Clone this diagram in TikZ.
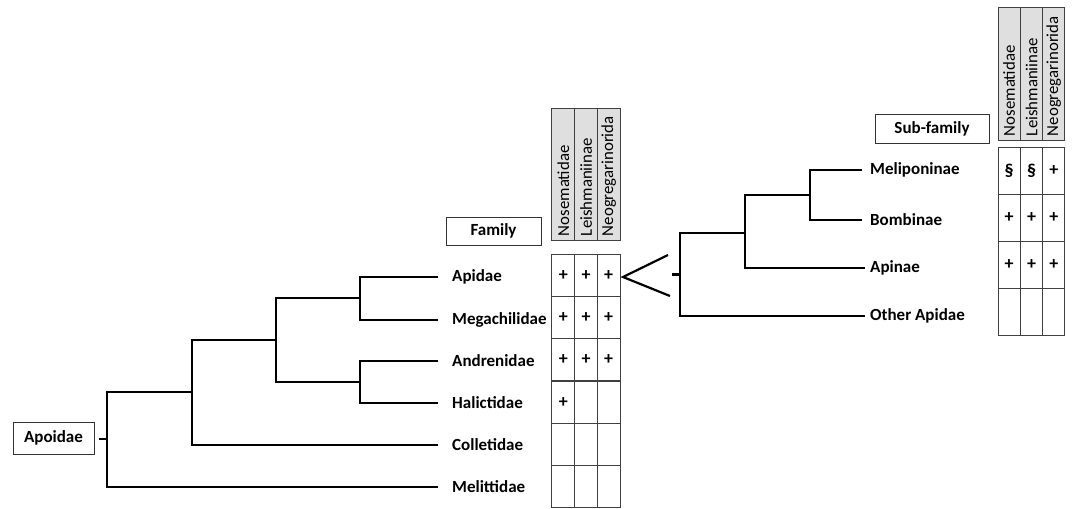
\documentclass[tikz,border=0pt]{standalone}
\usepackage{fontspec}
\setmainfont{Carlito}
\begin{document}
\begin{tikzpicture}[x=1pt,y=-1pt,
  branch/.style={line width=2.5pt, line join=miter},
  lab/.style={font=\bfseries\fontsize{17}{19}\selectfont, anchor=west, inner sep=0pt},
  boxlab/.style={draw=black!80, line width=1pt, font=\bfseries\fontsize{17}{19}\selectfont, inner sep=0pt},
  cellL/.style={draw=black!75, line width=1pt, minimum width=22.67pt, minimum height=42.33pt, inner sep=0pt, font=\bfseries\fontsize{18}{20}\selectfont},
  cellR/.style={draw=black!75, line width=1pt, minimum width=22.33pt, minimum height=47pt, inner sep=0pt, font=\bfseries\fontsize{18}{20}\selectfont},
  hdrL/.style={draw=black!75, fill=gray!25, line width=1pt, rotate=90, minimum width=132pt, minimum height=22.67pt, inner xsep=4pt, inner ysep=0pt, text width=124pt, align=left, font=\fontsize{16.8}{18}\selectfont},
  hdrR/.style={draw=black!75, fill=gray!25, line width=1pt, rotate=90, minimum width=133pt, minimum height=22.33pt, inner xsep=4pt, inner ysep=0pt, text width=125pt, align=left, font=\fontsize{16.8}{18}\selectfont}
]
\useasboundingbox (0,0) rectangle (1072,509);

% ---------- left tree ----------
\node[boxlab, minimum width=81pt, minimum height=32pt] (apoidae) at (53.5,438) {Apoidae};
\node[boxlab, minimum width=95pt, minimum height=28pt] (family) at (493.5,231) {Family};

\node[lab] (apidae) at (452,277) {Apidae};
\node[lab] (mega)   at (452,320) {Megachilidae};
\node[lab] (andr)   at (452,361) {Andrenidae};
\node[lab] (hali)   at (452,403) {Halictidae};
\node[lab] (coll)   at (452,445) {Colletidae};
\node[lab] (meli)   at (452,487) {Melittidae};

\coordinate (eApidae) at (438,277);
\coordinate (eMega)   at (438,320);
\coordinate (eAndr)   at (438,361);
\coordinate (eHali)   at (438,403);
\coordinate (eColl)   at (438,445);
\coordinate (eMeli)   at (438,487);

\coordinate (nAM) at (360,298);
\coordinate (nAH) at (360,382);
\coordinate (nB)  at (276,340);
\coordinate (nC)  at (192,392);
\coordinate (nR)  at (107,439);
\coordinate (tick) at (99,439);

\draw[branch] (eApidae) -| (nAM) |- (eMega);
\draw[branch] (eAndr) -| (nAH) |- (eHali);
\draw[branch] (nAM) -| (nB) |- (nAH);
\draw[branch] (nB) -| (nC) |- (eColl);
\draw[branch] (nC) -| (nR) |- (eMeli);
\draw[branch] (tick) -- (nR);

% ---------- left table ----------
\foreach \n/\c/\x in {1/Nosematidae/563.3, 2/Leishmaniinae/586, 3/Neogregarinorida/608.7}{
  \node[hdrL] (LH\n) at (\x,174) {\c};
}
\foreach \r/\y/\a/\b/\cc in {1/275.2/+/+/+, 2/317.5/+/+/+, 3/359.8/+/+/+, 4/402.2/+//, 5/444.5///, 6/486.8///}{
  \node[cellL] (L\r a) at (563.3,\y) {\a};
  \node[cellL] (L\r b) at (586,\y) {\b};
  \node[cellL] (L\r c) at (608.7,\y) {\cc};
}

% ---------- chevron ----------
\coordinate (chT) at (668,255);
\coordinate (chM) at (623,277);
\coordinate (chB) at (670,296);
\draw[line width=2.2pt] (chT) -- (chM) -- (chB);

% ---------- right tree ----------
\node[boxlab, minimum width=114pt, minimum height=29pt] (subfam) at (932,128.5) {Sub-family};

\node[lab] (melip) at (870,170) {Meliponinae};
\node[lab] (bomb)  at (870,220) {Bombinae};
\node[lab] (apin)  at (870,268) {Apinae};
\node[lab] (oth)   at (870,316) {Other Apidae};

\coordinate (eMelip) at (862,170);
\coordinate (eBomb)  at (862,220);
\coordinate (eApin)  at (865,268);
\coordinate (eOth)   at (865,316);

\coordinate (rMB) at (810,195);
\coordinate (rMA) at (745,233);
\coordinate (rR)  at (680,274.5);
\coordinate (rtick) at (672,274.5);

\draw[branch] (eMelip) -| (rMB) |- (eBomb);
\draw[branch] (rMB) -| (rMA) |- (eApin);
\draw[branch] (rMA) -| (rR) |- (eOth);
\draw[branch] (rtick) -- (rR);

% ---------- right table ----------
\foreach \n/\c/\x in {1/Nosematidae/1009.2, 2/Leishmaniinae/1031.5, 3/Neogregarinorida/1053.8}{
  \node[hdrR] (RH\n) at (\x,73.5) {\c};
}
\foreach \r/\y/\a/\b/\cc in {1/170.5/\S/\S/+, 2/217.5/+/+/+, 3/264.5/+/+/+, 4/311.5///}{
  \node[cellR] (R\r a) at (1009.2,\y) {\a};
  \node[cellR] (R\r b) at (1031.5,\y) {\b};
  \node[cellR] (R\r c) at (1053.8,\y) {\cc};
}
\end{tikzpicture}
\end{document}
